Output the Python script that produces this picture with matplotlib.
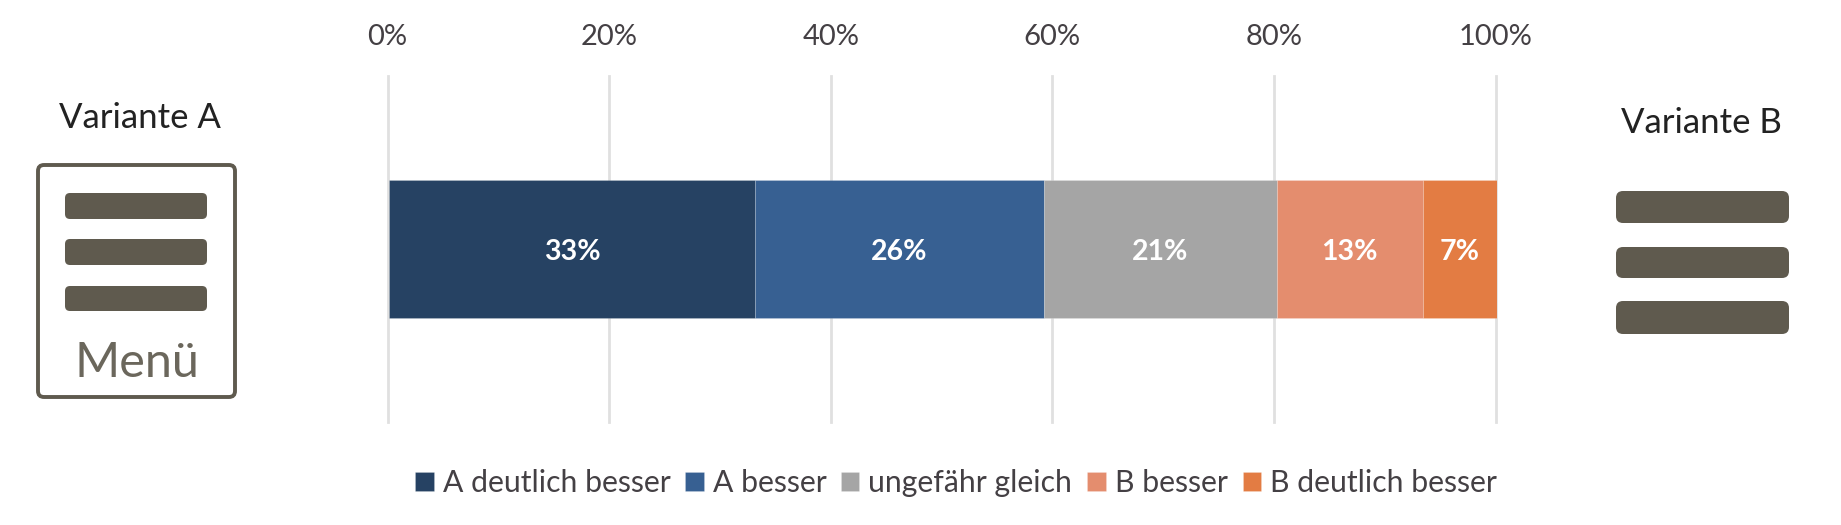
import matplotlib
matplotlib.use("Agg")
import matplotlib.pyplot as plt
from matplotlib.patches import FancyBboxPatch
from matplotlib.transforms import ScaledTranslation

categories = ["A deutlich besser", "A besser", "ungefähr gleich", "B besser", "B deutlich besser"]
values = [33.05, 26.05, 21.0, 13.2, 6.7]
colors = ["#264263", "#376092", "#a5a5a5", "#e48d6e", "#e37c43"]
xticks = [0, 20, 40, 60, 80, 100]
xticklabels = ["0%", "20%", "40%", "60%", "80%", "100%"]

W, H = 1841, 525
plt.rcParams["font.family"] = ["Lato", "DejaVu Sans"]
fig = plt.figure(figsize=(W / 100, H / 100), dpi=100)

# Pixel-space layer for the icons and their captions
bg = fig.add_axes([0, 0, 1, 1], zorder=0)
bg.set_xlim(0, W)
bg.set_ylim(H, 0)
bg.axis("off")
ICON = "#5f5a4e"


def rbar(x0, y0, x1, y1, r, **kw):
    bg.add_patch(FancyBboxPatch((x0 + r, y0 + r), x1 - x0 - 2 * r, y1 - y0 - 2 * r,
                                boxstyle=f"round,pad={r},rounding_size={r}", **kw))


rbar(38, 165, 235, 397, 6, facecolor="white", edgecolor=ICON, linewidth=2.8)
for y0, y1 in [(193, 219), (239, 265), (286, 311)]:
    rbar(65, y0, 207, y1, 5, facecolor=ICON, edgecolor="none")
bg.text(137, 377, "Menü", color="#6b675c", fontsize=35, ha="center", va="baseline")
for y0, y1 in [(191, 223), (247, 278), (301, 334)]:
    rbar(1616, y0, 1789, y1, 7, facecolor=ICON, edgecolor="none")
bg.text(140, 127.5, "Variante A", color="#222222", fontsize=25, ha="center", va="baseline")
bg.text(1701, 133, "Variante B", color="#222222", fontsize=25, ha="center", va="baseline")

# Chart
left, right, top, bottom = 389, 1497, 76, 422
ax = fig.add_axes([left / W, 1 - bottom / H, (right - left) / W, (bottom - top) / H], zorder=1)
ax.patch.set_alpha(0)
ax.set_xlim(0, 100)
ax.set_ylim(-1, 1)
ax.set_yticks([])
for s in ax.spines.values():
    s.set_visible(False)
ax.set_xticks(xticks)
ax.set_xticklabels(xticklabels)
ax.xaxis.tick_top()
ax.tick_params(axis="x", length=0, pad=19, labelsize=21, labelcolor="#444044")
ax.grid(axis="x", color="#e0e0e0", linewidth=2)
ax.set_axisbelow(True)
shift = ScaledTranslation(-1.5 / 100, 0, fig.dpi_scale_trans)
for line in ax.get_xgridlines():
    line.set_transform(line.get_transform() + shift)
    line.set_clip_on(False)
for label in ax.get_xticklabels():
    label.set_transform(label.get_transform() + shift)

start = 0
handles = []
for cat, val, col in zip(categories, values, colors):
    bars = ax.barh(0, val, left=start, height=0.803, color=col, edgecolor=(1, 1, 1, 0.2),
                   linewidth=0.6, label=cat)
    anns = ax.bar_label(bars, labels=[f"{round(val)}%"], label_type="center", color="white",
                        fontsize=20.5, fontweight="bold")
    for ann in anns:
        ann.xyann = (0, -2.5)
    handles.append(bars)
    start += val

fig.legend(handles=handles, labels=categories, loc="center", ncols=5,
           bbox_to_anchor=(956 / W, 1 - 483 / H), frameon=False, fontsize=21.7,
           labelcolor="#444044", handlelength=0.6, handleheight=0.6,
           handletextpad=0.3, columnspacing=0.5, borderpad=0, borderaxespad=0)

fig.savefig("out.png", dpi=100, facecolor="white")
